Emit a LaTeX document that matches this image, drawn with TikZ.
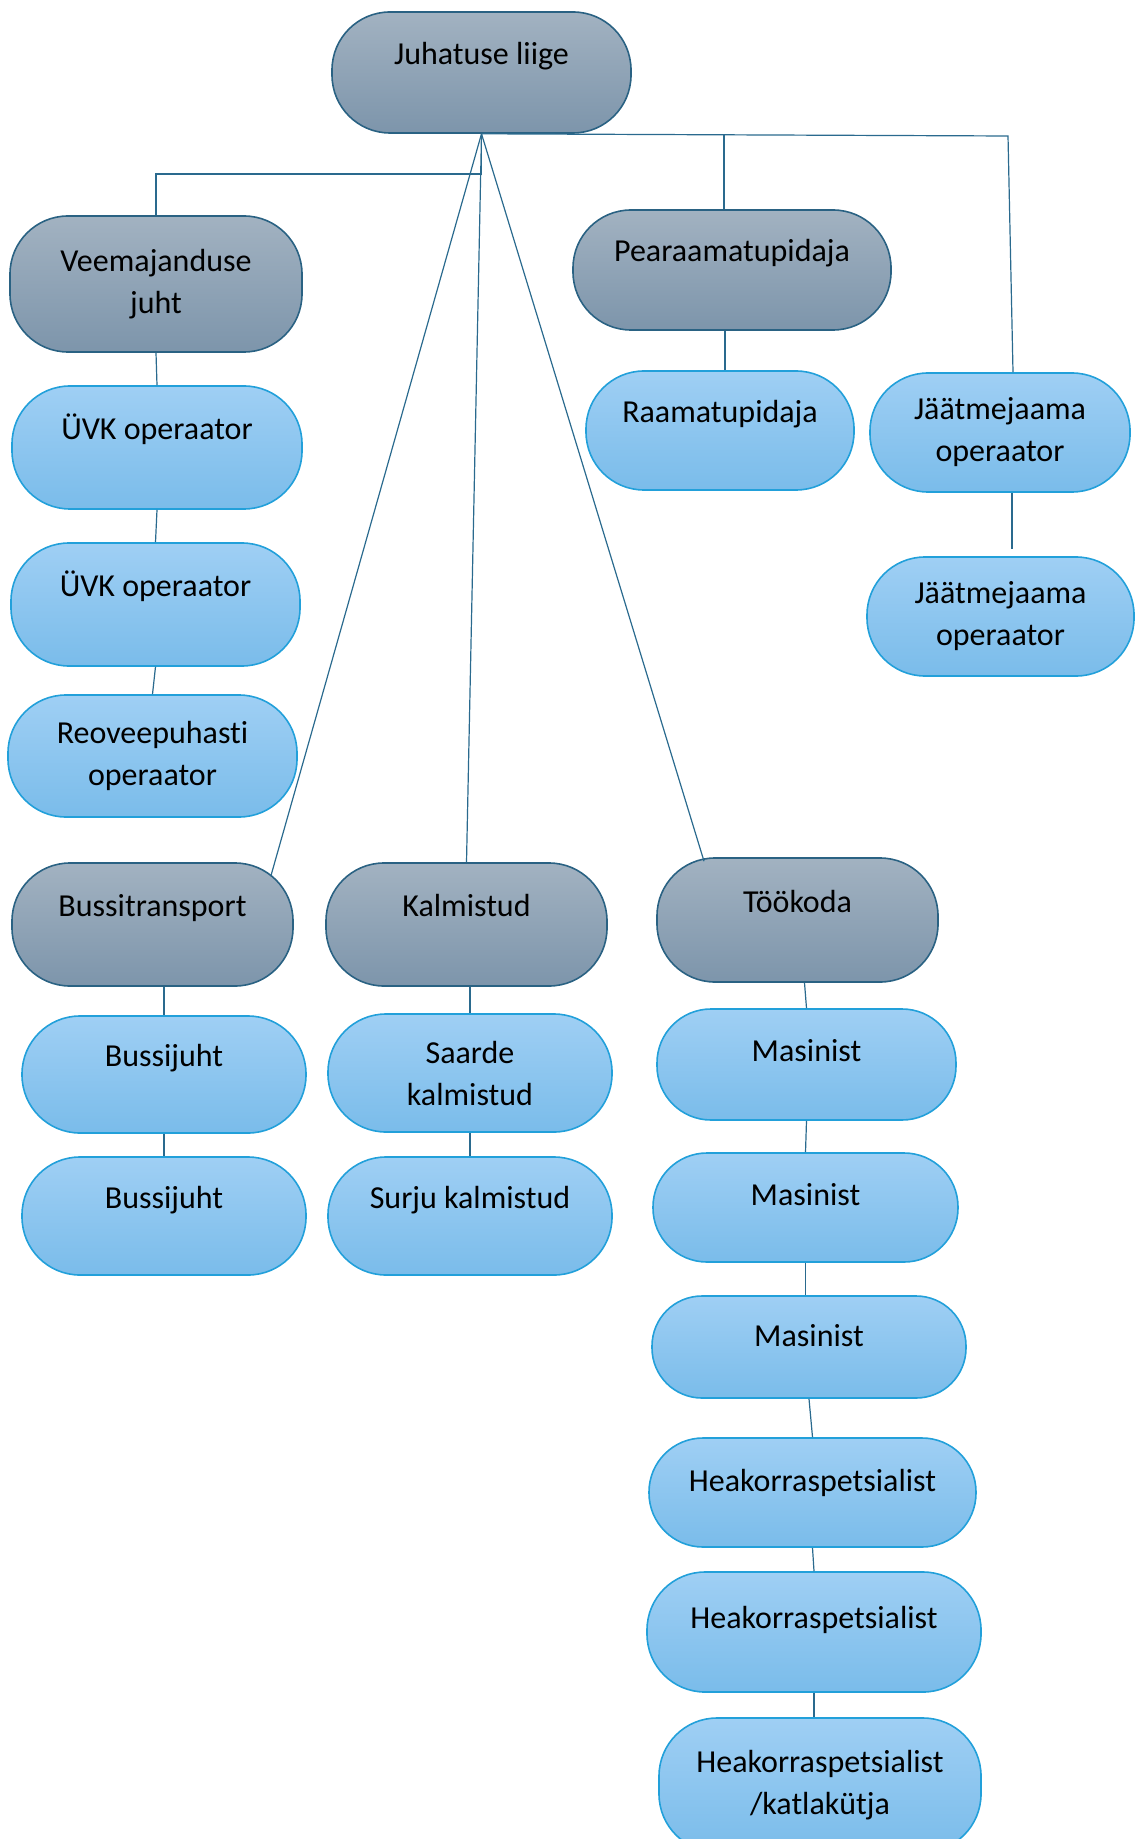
\documentclass[tikz,border=0pt]{standalone}
\usepackage{fontspec}
\setmainfont{Carlito}[Ligatures=NoCommon]
\usepackage{xcolor}
\usepackage{tikz}
\usetikzlibrary{positioning}
\definecolor{bosstop}{HTML}{A2B2C1}
\definecolor{bossbot}{HTML}{7D95AB}
\definecolor{bossline}{HTML}{2A6283}
\definecolor{stafftop}{HTML}{9FCFF4}
\definecolor{staffbot}{HTML}{7ABCEA}
\definecolor{staffline}{HTML}{22A0DA}
\definecolor{linkcol}{HTML}{2A6A8E}
\begin{document}
\begin{tikzpicture}[
    x=0.5pt, y=-0.5pt,
    boss/.style={draw=bossline, line width=0.8pt, top color=bosstop, bottom color=bossbot, rounded corners=29pt, align=center, inner sep=0pt, font=\fontsize{16}{21}\selectfont},
    staff/.style={draw=staffline, line width=0.8pt, top color=stafftop, bottom color=staffbot, rounded corners=29pt, align=center, inner sep=0pt, font=\fontsize{16}{21}\selectfont},
    lift/.style={text height=11pt, text depth=#1},
    lift/.default=19pt,
    link/.style={draw=linkcol, line width=0.6pt}
]
\useasboundingbox (0,0) rectangle (1134,1839);
% top
\node[boss, lift, minimum width=149.5pt, minimum height=60.5pt] (juh) at (481.5,72.5) {Juhatuse liige};
% water
\node[boss, minimum width=146pt, minimum height=68pt] (vee) at (156,284) {Veemajanduse\\juht};
\node[staff, lift, minimum width=145pt, minimum height=61.5pt] (uvk1) at (157,447.5) {ÜVK operaator};
\node[staff, lift, minimum width=144.5pt, minimum height=61.5pt] (uvk2) at (155.5,604.5) {ÜVK operaator};
\node[staff, minimum width=144.5pt, minimum height=61pt] (reo) at (152.5,756) {Reoveepuhasti\\operaator};
% accounting
\node[boss, lift, minimum width=159pt, minimum height=60pt] (pea) at (732,270) {Pearaamatupidaja};
\node[staff, lift, minimum width=134pt, minimum height=59.5pt] (raa) at (720,430.5) {Raamatupidaja};
% waste station
\node[staff, minimum width=130pt, minimum height=59.5pt] (jaa1) at (1000,432.5) {Jäätmejaama\\operaator};
\node[staff, minimum width=133.5pt, minimum height=59.5pt] (jaa2) at (1000.5,616.5) {Jäätmejaama\\operaator};
% buses
\node[boss, lift, minimum width=140.5pt, minimum height=61.5pt] (bus) at (152.5,924.5) {Bussitransport};
\node[staff, lift, minimum width=142pt, minimum height=58.5pt] (bj1) at (164,1074.5) {Bussijuht};
\node[staff, lift, minimum width=142pt, minimum height=59pt] (bj2) at (164,1216) {Bussijuht};
% cemeteries
\node[boss, lift, minimum width=140.5pt, minimum height=61.5pt] (kal) at (466.5,924.5) {Kalmistud};
\node[staff, minimum width=142pt, minimum height=59pt] (saa) at (470,1073) {Saarde\\kalmistud};
\node[staff, lift, minimum width=142pt, minimum height=59pt] (sur) at (470,1216) {Surju kalmistud};
% workshop
\node[boss, lift, minimum width=140.5pt, minimum height=62pt] (too) at (797.5,920) {Töökoda};
\node[staff, lift=14pt, rounded corners=27pt, minimum width=149.5pt, minimum height=55.5pt] (mas1) at (806.5,1064.5) {Masinist};
\node[staff, lift=13pt, rounded corners=27pt, minimum width=152.5pt, minimum height=54.5pt] (mas2) at (805.5,1207.5) {Masinist};
\node[staff, lift=12pt, rounded corners=25pt, minimum width=157pt, minimum height=51pt] (mas3) at (809,1347) {Masinist};
\node[staff, lift=12pt, rounded corners=27pt, minimum width=163.5pt, minimum height=54.5pt] (hea1) at (812.5,1492.5) {Heakorraspetsialist};
\node[staff, lift=15pt, minimum width=167pt, minimum height=60pt] (hea2) at (814,1632) {Heakorraspetsialist};
\node[staff, minimum width=161pt, minimum height=67pt] (hea3) at (820,1785) {Heakorraspetsialist\\/katlakütja};

\coordinate (vbend) at (481.5,174);
\coordinate (jbend) at (1008,136);

% links from the top
\draw[link] (juh.south) -- (vbend) -| (vee.north);
\draw[link] (juh.south) -- ([xshift=-11.5pt,yshift=-7pt]bus.north east);
\draw[link] (juh.south) -- (kal.north);
\draw[link] (juh.south) -- ([xshift=-46.75pt,yshift=-2pt]too.north);
\draw[link] (juh.south) -- (jbend) -- ([xshift=6.5pt]jaa1.north);
\draw[link] ([xshift=-4pt]pea.north) -- ([xshift=-4pt]pea.north |- juh.south);
% chains
\draw[link] (vee.south) -- (uvk1.north);
\draw[link] (uvk1.south) -- (uvk2.north);
\draw[link] (uvk2.south) -- (reo.north);
\draw[link] ([xshift=-3.5pt]pea.south) -- ([xshift=2.5pt]raa.north);
\draw[link] ([xshift=6pt]jaa1.south) -- ([xshift=5.75pt,yshift=3.5pt]jaa2.north);
\draw[link] (bj1.north) -- (bj1.north |- bus.south);
\draw[link] (bj1.south) -- (bj2.north);
\draw[link] (saa.north) -- (saa.north |- kal.south);
\draw[link] (saa.south) -- (sur.north);
\draw[link] ([xshift=3.5pt]too.south) -- (mas1.north);
\draw[link] (mas1.south) -- (mas2.north);
\draw[link] (mas2.south) -- (mas2.south |- mas3.north);
\draw[link] (mas3.south) -- (hea1.north);
\draw[link] (hea1.south) -- (hea2.north);
\draw[link] (hea2.south) -- (hea2.south |- hea3.north);
\end{tikzpicture}
\end{document}
